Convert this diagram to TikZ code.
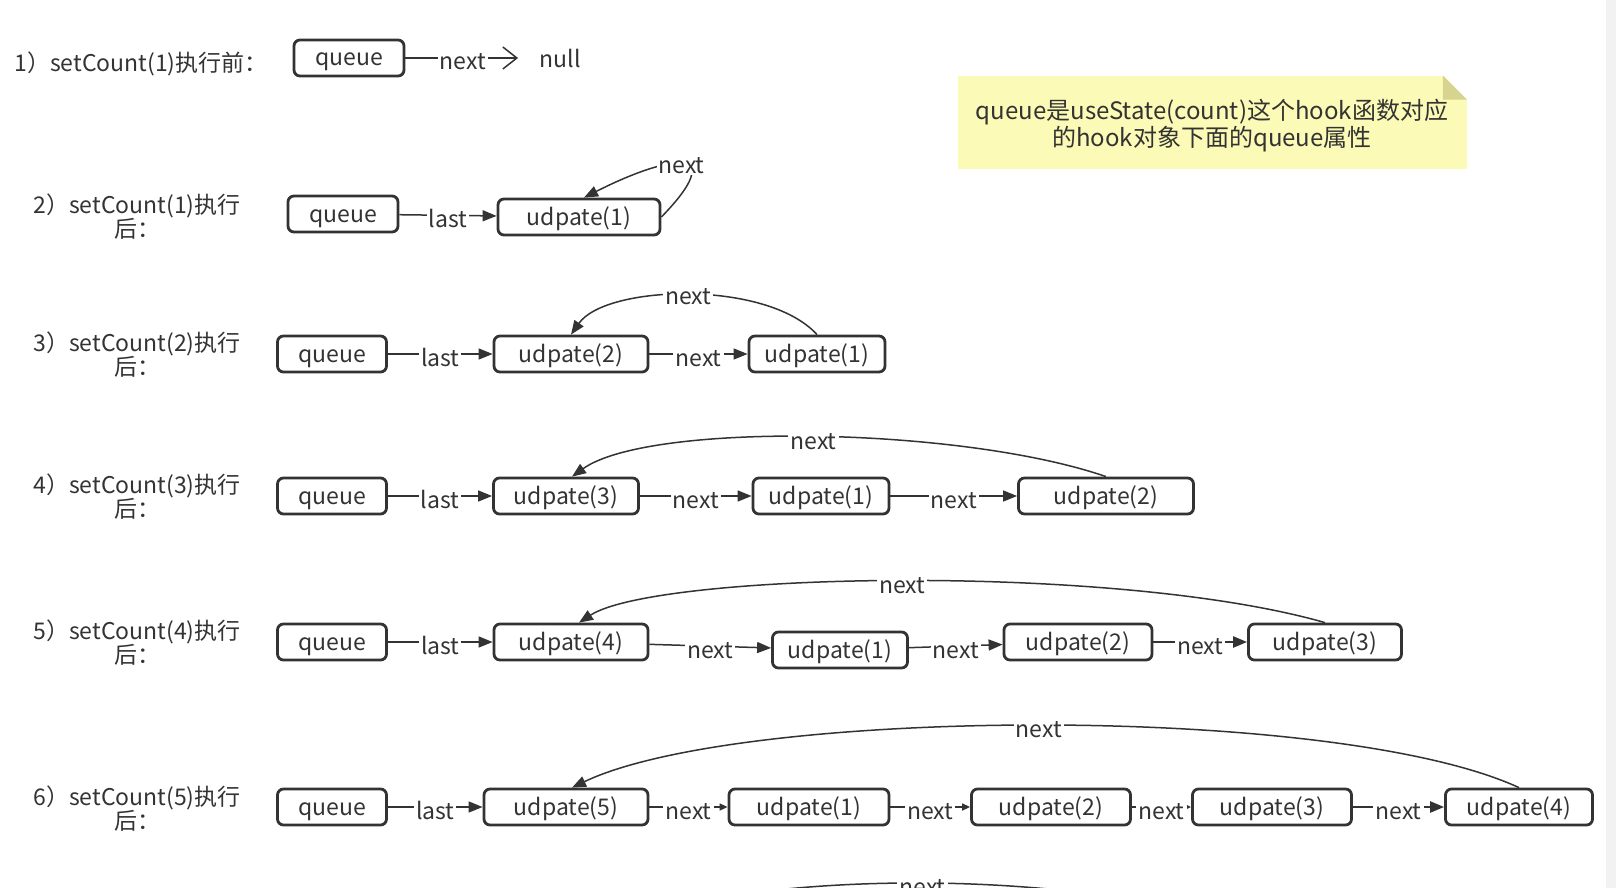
\documentclass[tikz,border=0pt]{standalone}
\usepackage{fontspec}
\setmainfont{Noto Sans CJK SC}
\usetikzlibrary{arrows.meta,calc}
\definecolor{ink}{HTML}{333333}
\definecolor{memofill}{RGB}{251,250,182}
\definecolor{memofold}{RGB}{214,212,142}
\tikzset{
    box/.style={
        draw=ink,
        line width=1.4pt,
        rounded corners=3pt,
        minimum height=18pt,
        inner sep=0pt,
        text height=9.5pt,
        text depth=1.5pt,
        text=ink,
        font=\fontsize{11.5}{12}\selectfont
    },
    rowlabel/.style={
        align=center,
        inner sep=0pt,
        text=ink,
        font=\fontsize{11.5}{12}\selectfont
    },
    lbl/.style={
        fill=white,
        inner sep=1pt,
        text height=9pt,
        text depth=0pt,
        yshift=-1.5pt,
        text=ink,
        font=\fontsize{11.5}{12}\selectfont
    },
    memo/.style={
        fill=memofill,
        minimum width=254.5pt,
        minimum height=46.5pt
    },
    memotext/.style={
        align=center,
        inner sep=0pt,
        text=ink,
        font=\fontsize{12}{12.5}\selectfont
    },
    arrow/.style={
        -{Triangle[length=7pt,width=5.5pt]},
        draw=ink,
        line width=0.75pt
    },
    smallarrow/.style={
        -{Triangle[length=4pt,width=3.5pt]},
        draw=ink,
        line width=0.75pt
    },
    backarrow/.style={
        -{Triangle[length=7pt,width=5.5pt]},
        draw=ink,
        line width=0.75pt
    },
    openarrow/.style={
        -{Straight Barb[length=7pt,width=11pt]},
        draw=ink,
        line width=0.75pt
    }
}

\begin{document}
\begin{tikzpicture}[x=0.5pt,y=-0.5pt]

\useasboundingbox (0,0) rectangle (1616,888);
\clip (0,0) rectangle (1616,888);
\fill[black!5] (1606,0) rectangle (1616,888);

% 1) before setCount(1)
\node[rowlabel, anchor=west] (l1) at (14,64) {1）setCount(1)执行前：};
\node[box, minimum width=55pt] (q1) at (349,58) {queue};
\node[rowlabel] (null) at (560,58) {null};
\draw[openarrow, shorten >=10.5pt] (q1) -- node[lbl, pos=.43] {next} (null);

% note
\node[memo] (note) at (1212,122.5) {};
\node[memotext] (notetext) at ([yshift=-1.5pt]note.center)
    {queue是useState(count)这个hook函数对应\\的hook对象下面的queue属性};
\fill[white] ($(note.north east)+(-24,0)$) -- (note.north east)
    -- ($(note.north east)+(0,24)$) -- cycle;
\fill[memofold] ($(note.north east)+(-24,0)$) -- ($(note.north east)+(-24,24)$)
    -- ($(note.north east)+(0,24)$) -- cycle;

% 2) after setCount(1)
\node[rowlabel] (l2) at (137,217) {2）setCount(1)执行\\后：};
\node[box, minimum width=55pt] (q2) at (343,214) {queue};
\node[box, minimum width=81pt] (u21) at (579,217) {udpate(1)};
\draw[arrow] (q2) -- node[lbl] {last} (u21);
\draw[backarrow] (u21.east) .. controls +(68,-70) and +(89,-45)
    .. node[lbl, pos=.5, yshift=1.5pt] {next} ([xshift=2.5pt]u21.north);

% 3) after setCount(2)
\node[rowlabel] (l3) at (137,354.5) {3）setCount(2)执行\\后：};
\node[box, minimum width=54.5pt] (q3) at (332,354) {queue};
\node[box, minimum width=77pt] (u32) at (571,354) {udpate(2)};
\node[box, minimum width=68pt] (u31) at (817,354) {udpate(1)};
\draw[arrow] (q3) -- node[lbl] {last} (u32);
\draw[arrow] (u32) -- node[lbl] {next} (u31);
\draw[backarrow] (u31.north) .. controls +(-50,-55) and +(35,-50)
    .. node[lbl, yshift=1.5pt] {next} (u32.north);

% 4) after setCount(3)
\node[rowlabel] (l4) at (137,496.5) {4）setCount(3)执行\\后：};
\node[box, minimum width=54.5pt] (q4) at (332,496) {queue};
\node[box, minimum width=72.5pt] (u43) at (566,496) {udpate(3)};
\node[box, minimum width=68pt] (u41) at (821,496) {udpate(1)};
\node[box, minimum width=87.5pt] (u42) at (1106,496) {udpate(2)};
\draw[arrow] (q4) -- node[lbl] {last} (u43);
\draw[arrow] (u43) -- node[lbl] {next} (u41);
\draw[arrow] (u41) -- node[lbl] {next} (u42);
\draw[backarrow] (u42.north) .. controls +(-145,-50) and +(77,-55)
    .. node[lbl] {next} ([xshift=3pt]u43.north);

% 5) after setCount(4)
\node[rowlabel] (l5) at (137,643) {5）setCount(4)执行\\后：};
\node[box, minimum width=54.5pt] (q5) at (332,642) {queue};
\node[box, minimum width=77pt] (u54) at (571,642) {udpate(4)};
\node[box, minimum width=67.5pt] (u51) at (840,650) {udpate(1)};
\node[box, minimum width=74pt] (u52) at (1078,642) {udpate(2)};
\node[box, minimum width=76.5pt] (u53) at (1325,642) {udpate(3)};
\draw[arrow] (q5) -- node[lbl] {last} (u54);
\draw[arrow] (u54) -- node[lbl] {next} (u51);
\draw[arrow] (u51) -- node[lbl] {next} (u52);
\draw[arrow, line width=1.2pt] (u52) -- node[lbl] {next} (u53);
\draw[backarrow] (u53.north) .. controls +(-210,-60) and +(77,-50)
    .. node[lbl] {next} ([xshift=4pt]u54.north);

% 6) after setCount(5)
\node[rowlabel] (l6) at (137,809) {6）setCount(5)执行\\后：};
\node[box, minimum width=54.5pt] (q6) at (332,807) {queue};
\node[box, minimum width=82pt] (u65) at (566,807) {udpate(5)};
\node[box, minimum width=80pt] (u61) at (809,807) {udpate(1)};
\node[box, minimum width=79.5pt] (u62) at (1051,807) {udpate(2)};
\node[box, minimum width=79.5pt] (u63) at (1272,807) {udpate(3)};
\node[box, minimum width=73.5pt] (u64) at (1519,807) {udpate(4)};
\draw[arrow] (q6) -- node[lbl] {last} (u65);
\draw[smallarrow] (u65) -- node[lbl] {next} (u61);
\draw[smallarrow] (u61) -- node[lbl] {next} (u62);
\draw[smallarrow] (u62) -- node[lbl] {next} (u63);
\draw[arrow, line width=1.2pt] (u63) -- node[lbl] {next} (u64);
\draw[backarrow] (u64.north) .. controls +(-185,-85) and +(167,-80)
    .. node[lbl] {next} ([xshift=3pt]u65.north);

% next row, cut off by the page edge
\coordinate (r7src) at (1300,946);
\coordinate (r7dst) at (560,946);
\draw[backarrow] (r7src) .. controls +(-185,-83) and +(165,-83)
    .. node[lbl] {next} (r7dst);

\end{tikzpicture}
\end{document}
